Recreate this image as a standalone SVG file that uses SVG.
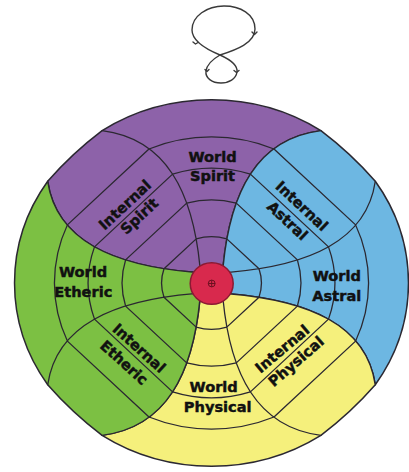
<svg xmlns="http://www.w3.org/2000/svg" width="409" height="472" viewBox="0 0 409 472">
<style>
.ln{fill:none;stroke:#2b2831;stroke-width:1.3;vector-effect:non-scaling-stroke;stroke-linecap:round}
.bl{stroke:#2b2831;stroke-width:1.5;vector-effect:non-scaling-stroke;stroke-linejoin:round}
.lbl{font-family:"DejaVu Sans",sans-serif;font-weight:bold;font-size:14.6px;fill:#111;stroke:#111;stroke-width:0.45;text-anchor:middle}
.fig{fill:none;stroke:#3a3a3a;stroke-width:1.4;stroke-linecap:round;stroke-linejoin:round}
</style>
<defs>
<path id="blade" d="M -17.2,-11.5 C -97.2,-18.7 -155,-45 -163.8,-109.4 Q -139.4,-139.4 -109.4,-163.8 A 197 197 0 0 1 109.4,-163.8 C 45,-155 18.7,-97.2 11.5,-17.2 L 0,0 Z"/>
<path id="marks" d="M -11.5,-17.2 C -18.7,-97.2 -45,-155 -109.4,-163.8 M -15.3,-47.5 A 50 50 0 0 1 15.3,-47.5 M -24.8,-85.9 A 89.4 89.4 0 0 1 24.8,-85.9 M -38.9,-117 A 123.3 123.3 0 0 1 38.9,-117 M -62.5,-144.1 A 157.1 157.1 0 0 1 62.5,-144.1 M -15.3,-47.5 L -47.5,-15.3 M -24.8,-85.9 L -85.9,-24.8 M -38.9,-117 L -117,-38.9 M -62.5,-144.1 L -144.1,-62.5"/>
</defs>

<g id="lemniscate">
<path class="fig" d="M 220,55 C 236,50 255,43 255,29 C 255,14 240,6 224,6 C 207,6 192,16 192,30 C 192,42 208,50 220,55 C 231,60 238,65 237,72 C 236,79 229,83 221,83 C 212,83 205,78 206,71 C 207,64 213,59 220,55 Z"/>
<path class="fig" stroke-width="1.1" d="M 252,32 L 254.5,34.5 L 257,32 M 193,42 L 195.5,44 L 198,42.5 M 205,69.5 L 207,71.5 L 209,69.5 M 234,70.5 L 236.5,72.5 L 239,70.5"/>
</g>

<g transform="translate(211.5,283) scale(1,0.93)">
<g id="spirit">
<use href="#blade" class="bl" fill="#8d62a9"/>
<use href="#marks" class="ln"/>
</g>
<g id="astral" transform="rotate(90)">
<use href="#blade" class="bl" fill="#6db7e2"/>
<use href="#marks" class="ln"/>
</g>
<g id="physical" transform="rotate(180)">
<use href="#blade" class="bl" fill="#f5f07c"/>
<use href="#marks" class="ln"/>
</g>
<g id="etheric" transform="rotate(270)">
<use href="#blade" class="bl" fill="#7cc043"/>
<use href="#marks" class="ln"/>
</g>
</g>

<g id="center">
<ellipse cx="211.7" cy="283.5" rx="21.5" ry="20.8" fill="#d8294d" stroke="#8b1a33" stroke-width="1.5"/>
<circle cx="211.7" cy="283.5" r="3.4" fill="none" stroke="#6b1020" stroke-width="1"/>
<path d="M 208.3,283.5 H 215.1 M 211.7,280.1 V 286.9" stroke="#6b1020" stroke-width="1"/>
</g>

<g id="labels" class="lbl">
<text x="212.5" y="162">World</text>
<text x="212.5" y="180.5">Spirit</text>
<text x="336.8" y="280.7">World</text>
<text x="336.8" y="300.7">Astral</text>
<text x="83" y="277.3">World</text>
<text x="83.3" y="296.7">Etheric</text>
<text x="213.7" y="392.3">World</text>
<text x="217.7" y="411.7">Physical</text>
<text transform="translate(125,205) rotate(-43)" y="5">Internal</text>
<text transform="translate(140,217) rotate(-43)" y="4">Spirit</text>
<text transform="translate(301.7,206) rotate(43)" y="5">Internal</text>
<text transform="translate(287.3,220.7) rotate(43)" y="5">Astral</text>
<text transform="translate(139,348.3) rotate(42)" y="5">Internal</text>
<text transform="translate(124,362.7) rotate(42)" y="5">Etheric</text>
<text transform="translate(282.3,349) rotate(-40)" y="5">Internal</text>
<text transform="translate(296.7,362.3) rotate(-41)" y="4">Physical</text>
</g>
</svg>
